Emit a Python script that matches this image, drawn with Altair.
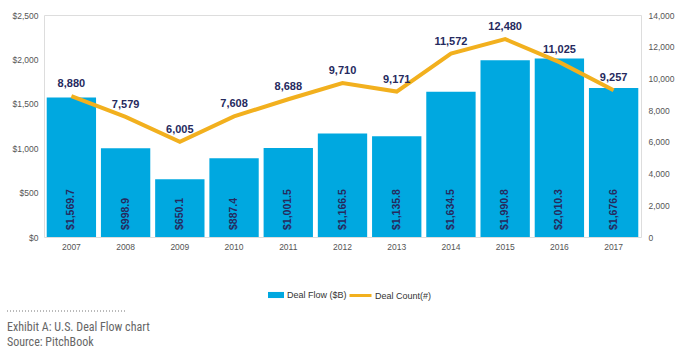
import altair as alt
import pandas as pd

years = ["2007", "2008", "2009", "2010", "2011", "2012", "2013", "2014", "2015", "2016", "2017"]
deal_flow = [1569.7, 998.9, 650.1, 887.4, 1001.5, 1166.5, 1135.8, 1634.5, 1990.8, 2010.3, 1676.6]
deal_count = [8880, 7579, 6005, 7608, 8688, 9710, 9171, 11572, 12480, 11025, 9257]
flow_ticks = [0, 500, 1000, 1500, 2000, 2500]
count_ticks = [0, 2000, 4000, 6000, 8000, 10000, 12000, 14000]
footer_lines = ["Exhibit A: U.S. Deal Flow chart", "Source: PitchBook"]

df = pd.DataFrame({"year": years, "flow": deal_flow, "count": deal_count,
                   "s1": "Deal Flow ($B)", "s2": "Deal Count(#)"})

BLUE = "#00a8e0"
GOLD = "#f2b01e"
NAVY = "#262a5e"
GRAY = "#555555"
FONT = "Liberation Sans"

xenc = alt.X("year:N", title=None, sort=years,
             scale=alt.Scale(paddingInner=0.09, paddingOuter=0.05),
             axis=alt.Axis(labelAngle=0, labelFontSize=8.5, labelColor=GRAY, labelPadding=5,
                           ticks=False, domain=False, labelFont=FONT))

flow_scale = alt.Scale(domain=[0, 2500], nice=False)
count_scale = alt.Scale(domain=[0, 14000], nice=False)

flow_axis = alt.Axis(values=flow_ticks, labelExpr="'$' + format(datum.value, ',')",
                     grid=False, ticks=False, domain=False, labelFontSize=8.5,
                     labelColor=GRAY, labelPadding=6, labelFont=FONT, orient="left")
count_axis = alt.Axis(values=count_ticks, labelExpr="format(datum.value, ',')",
                      grid=False, ticks=False,
                      domain=False, labelFontSize=8.5, labelColor=GRAY, labelPadding=7,
                      labelFont=FONT, orient="right", labelAlign="left")

yflow = alt.Y("flow:Q", title=None, scale=flow_scale, axis=flow_axis)
ycount = alt.Y("count:Q", title=None, scale=count_scale, axis=count_axis)

base = alt.Chart(df)

bars = base.mark_bar(color=BLUE).encode(
    x=xenc, y=yflow,
    color=alt.Color("s1:N", scale=alt.Scale(range=[BLUE]), title=None,
                    legend=alt.Legend(orient="none", legendX=223, legendY=271,
                                      symbolType="M-1,-0.38H1V0.38H-1Z", symbolSize=256,
                                      labelFontSize=9, labelColor="#333333", labelFont=FONT,
                                      labelOffset=2)))

bar_text = base.transform_calculate(
    label="'$' + format(datum.flow, ',.1f')"
).mark_text(angle=270, align="left", baseline="middle", fontSize=10.5, fontWeight="bold",
            color=NAVY, font=FONT, dx=7).encode(
    x=alt.X("year:N", sort=years),
    y=alt.YDatum(0, type="quantitative", scale=flow_scale, axis=flow_axis, title=None),
    text="label:N")

line = base.mark_line(strokeWidth=4, color=GOLD).encode(
    x=alt.X("year:N", sort=years), y=ycount,
    color=alt.Color("s2:N", scale=alt.Scale(range=[GOLD]), title=None,
                    legend=alt.Legend(orient="none", legendX=304, legendY=268,
                                      symbolType="stroke", symbolSize=484,
                                      symbolStrokeWidth=3, labelFontSize=9,
                                      labelColor="#333333", labelFont=FONT, labelOffset=2)))

line_text = base.mark_text(dy=-12, fontSize=11, fontWeight="bold", color=NAVY,
                           font=FONT).encode(
    x=alt.X("year:N", sort=years),
    y=ycount,
    text=alt.Text("count:Q", format=","))

one = pd.DataFrame({"a": [0]})
FOOT_FONT = "Liberation Sans Narrow, Roboto Condensed, Liberation Sans"
foot1 = alt.Chart(one).mark_text(align="left", baseline="middle", fontSize=12,
                                 color="#666666", font=FOOT_FONT).encode(
    x=alt.value(-37), y=alt.value(312), text=alt.value(footer_lines[0]))
foot2 = alt.Chart(one).mark_text(align="left", baseline="middle", fontSize=12,
                                 color="#666666", font=FOOT_FONT).encode(
    x=alt.value(-37), y=alt.value(327), text=alt.value(footer_lines[1]))

dots = alt.Chart(one).mark_rule(
    color="#777777", strokeDash=[1, 2], strokeWidth=1).encode(
    x=alt.value(-37), x2=alt.value(81), y=alt.value(296))

chart = alt.layer(
    alt.layer(bars, bar_text),
    alt.layer(line, line_text),
    foot1, foot2, dots
).resolve_scale(y="independent", color="independent").properties(
    width=597, height=222,
    autosize=alt.AutoSizeParams(type="none"),
    padding={"left": 44, "top": 15, "right": 39, "bottom": 118}
).configure_view(stroke=None).configure(background="white")

chart.save("out.html", embed_options={"renderer": "svg", "actions": False})
